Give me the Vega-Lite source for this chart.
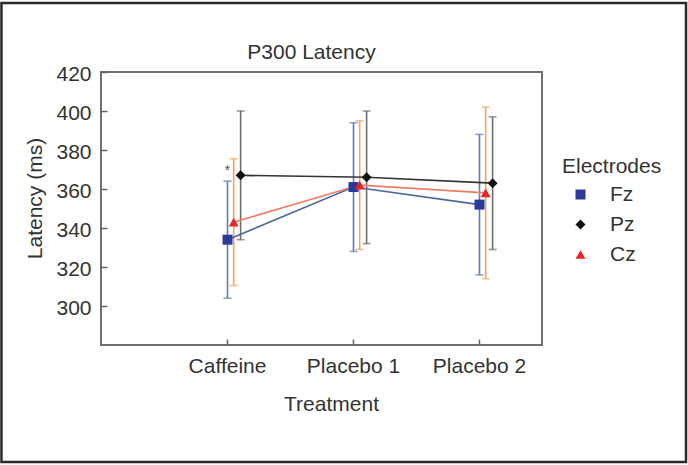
{
  "$schema": "https://vega.github.io/schema/vega-lite/v6.json",
  "width": 441,
  "height": 273,
  "autosize": {"type": "none"},
  "padding": {"left": 101, "top": 72, "right": 146, "bottom": 120},
  "background": "white",
  "config": {
    "font": "Liberation Sans",
    "view": {"stroke": "#707070", "strokeWidth": 2},
    "axis": {
      "domain": false,
      "grid": false,
      "tickColor": "#666666",
      "tickWidth": 1.5,
      "labelFontSize": 21,
      "labelColor": "#333333",
      "titleFontSize": 21,
      "titleFontWeight": "normal",
      "titleColor": "#333333"
    }
  },
  "title": {
    "text": "P300 Latency",
    "frame": "group",
    "fontSize": 21,
    "fontWeight": "normal",
    "color": "#333333",
    "baseline": "alphabetic",
    "offset": -78,
    "dx": -10
  },
  "layer": [
    {
      "data": {"values": [{"frame": 1}]},
      "mark": {"type": "rect", "fill": "transparent", "stroke": "#2a2a2a", "strokeWidth": 2.5, "clip": false},
      "encoding": {
        "x": {"datum": -0.79, "type": "quantitative", "scale": {"domain": [0, 3.5], "nice": false, "zero": false}},
        "x2": {"datum": 4.643},
        "y": {"datum": 455.4, "type": "quantitative", "scale": {"domain": [280, 420], "nice": false, "zero": false}},
        "y2": {"datum": 220.0}
      }
    },
    {
      "data": {
        "values": [
          {"treatment": "Caffeine", "electrode": "Fz", "mean": 334, "lo": 304, "hi": 364, "sig": "*"},
          {"treatment": "Caffeine", "electrode": "Cz", "mean": 343, "lo": 310.5, "hi": 375.5, "sig": ""},
          {"treatment": "Caffeine", "electrode": "Pz", "mean": 367, "lo": 334, "hi": 400, "sig": ""},
          {"treatment": "Placebo 1", "electrode": "Fz", "mean": 361, "lo": 328, "hi": 394, "sig": ""},
          {"treatment": "Placebo 1", "electrode": "Cz", "mean": 362, "lo": 329, "hi": 395, "sig": ""},
          {"treatment": "Placebo 1", "electrode": "Pz", "mean": 366, "lo": 332, "hi": 400, "sig": ""},
          {"treatment": "Placebo 2", "electrode": "Fz", "mean": 352, "lo": 316, "hi": 388, "sig": ""},
          {"treatment": "Placebo 2", "electrode": "Cz", "mean": 358, "lo": 314, "hi": 402, "sig": ""},
          {"treatment": "Placebo 2", "electrode": "Pz", "mean": 363, "lo": 329, "hi": 397, "sig": ""}
        ]
      },
      "transform": [
        {
          "calculate": "indexof(['Caffeine', 'Placebo 1', 'Placebo 2'], datum.treatment) + 1 + (datum.electrode === 'Cz' ? 0.053 : datum.electrode === 'Pz' ? 0.108 : 0.004)",
          "as": "xpos"
        }
      ],
      "encoding": {
        "x": {
          "field": "xpos",
          "type": "quantitative",
          "scale": {"domain": [0, 3.5], "nice": false, "zero": false},
          "axis": {
            "values": [1, 2, 3],
            "labelExpr": "datum.value == 1 ? 'Caffeine' : datum.value == 2 ? 'Placebo 1' : 'Placebo 2'",
            "tickSize": -6,
            "labelPadding": 16,
            "title": "Treatment",
            "titlePadding": 17,
            "titleX": 230
          }
        }
      },
      "layer": [
        {
          "mark": {"type": "rule", "strokeWidth": 1.6},
          "encoding": {
            "y": {
              "field": "lo",
              "type": "quantitative",
              "scale": {"domain": [280, 420], "nice": false, "zero": false},
              "axis": {"values": [300, 320, 340, 360, 380, 400, 420], "tickSize": -6, "labelPadding": 16, "labelOffset": 2, "title": "Latency (ms)", "titlePadding": 10, "titleY": 126},
              "title": "Latency (ms)"
            },
            "y2": {"field": "hi"},
            "color": {
              "field": "electrode",
              "type": "nominal",
              "scale": {"range": ["#f4a55e", "#5d7db3", "#6e6e6e"]},
              "legend": null
            }
          }
        },
        {
          "mark": {"type": "tick", "orient": "horizontal", "size": 8, "thickness": 1.6},
          "encoding": {
            "y": {"field": "lo", "type": "quantitative", "title": "Latency (ms)"},
            "color": {"field": "electrode", "type": "nominal", "legend": null}
          }
        },
        {
          "mark": {"type": "tick", "orient": "horizontal", "size": 8, "thickness": 1.6},
          "encoding": {
            "y": {"field": "hi", "type": "quantitative", "title": "Latency (ms)"},
            "color": {"field": "electrode", "type": "nominal", "legend": null}
          }
        },
        {
          "mark": {"type": "line", "strokeWidth": 1.6},
          "encoding": {
            "y": {"field": "mean", "type": "quantitative", "title": "Latency (ms)"},
            "stroke": {
              "field": "electrode",
              "type": "nominal",
              "scale": {"range": ["#ef7d62", "#48689c", "#333333"]},
              "legend": null
            }
          }
        },
        {
          "mark": {"type": "point", "filled": true, "size": 100, "opacity": 1},
          "encoding": {
            "y": {"field": "mean", "type": "quantitative", "title": "Latency (ms)"},
            "fill": {
              "field": "electrode",
              "type": "nominal",
              "scale": {"domain": ["Fz", "Pz", "Cz"], "range": ["#2b3a96", "#111111", "#e3262a"]},
              "legend": {
                "title": "Electrodes",
                "orient": "none",
                "legendX": 461,
                "legendY": 84,
                "titleFontSize": 21,
                "titleFontWeight": "normal",
                "titleColor": "#333333",
                "titlePadding": 7,
                "labelFontSize": 21,
                "labelColor": "#333333",
                "labelOffset": 19,
                "symbolOffset": 8,
                "rowPadding": 8,
                "symbolSize": 100,
                "symbolOpacity": 1
              }
            },
            "shape": {
              "field": "electrode",
              "type": "nominal",
              "scale": {"domain": ["Fz", "Pz", "Cz"], "range": ["square", "diamond", "triangle-up"]},
              "legend": {
                "title": "Electrodes",
                "orient": "none",
                "legendX": 461,
                "legendY": 84,
                "titleFontSize": 21,
                "titleFontWeight": "normal",
                "titleColor": "#333333",
                "titlePadding": 7,
                "labelFontSize": 21,
                "labelColor": "#333333",
                "labelOffset": 19,
                "symbolOffset": 8,
                "rowPadding": 8,
                "symbolSize": 100,
                "symbolOpacity": 1
              }
            }
          }
        },
        {
          "transform": [{"filter": "datum.sig !== ''"}],
          "mark": {"type": "text", "fontSize": 14, "color": "#555555", "baseline": "alphabetic", "dy": -6},
          "encoding": {
            "y": {"field": "hi", "type": "quantitative", "title": "Latency (ms)"},
            "text": {"field": "sig"}
          }
        }
      ]
    }
  ]
}
